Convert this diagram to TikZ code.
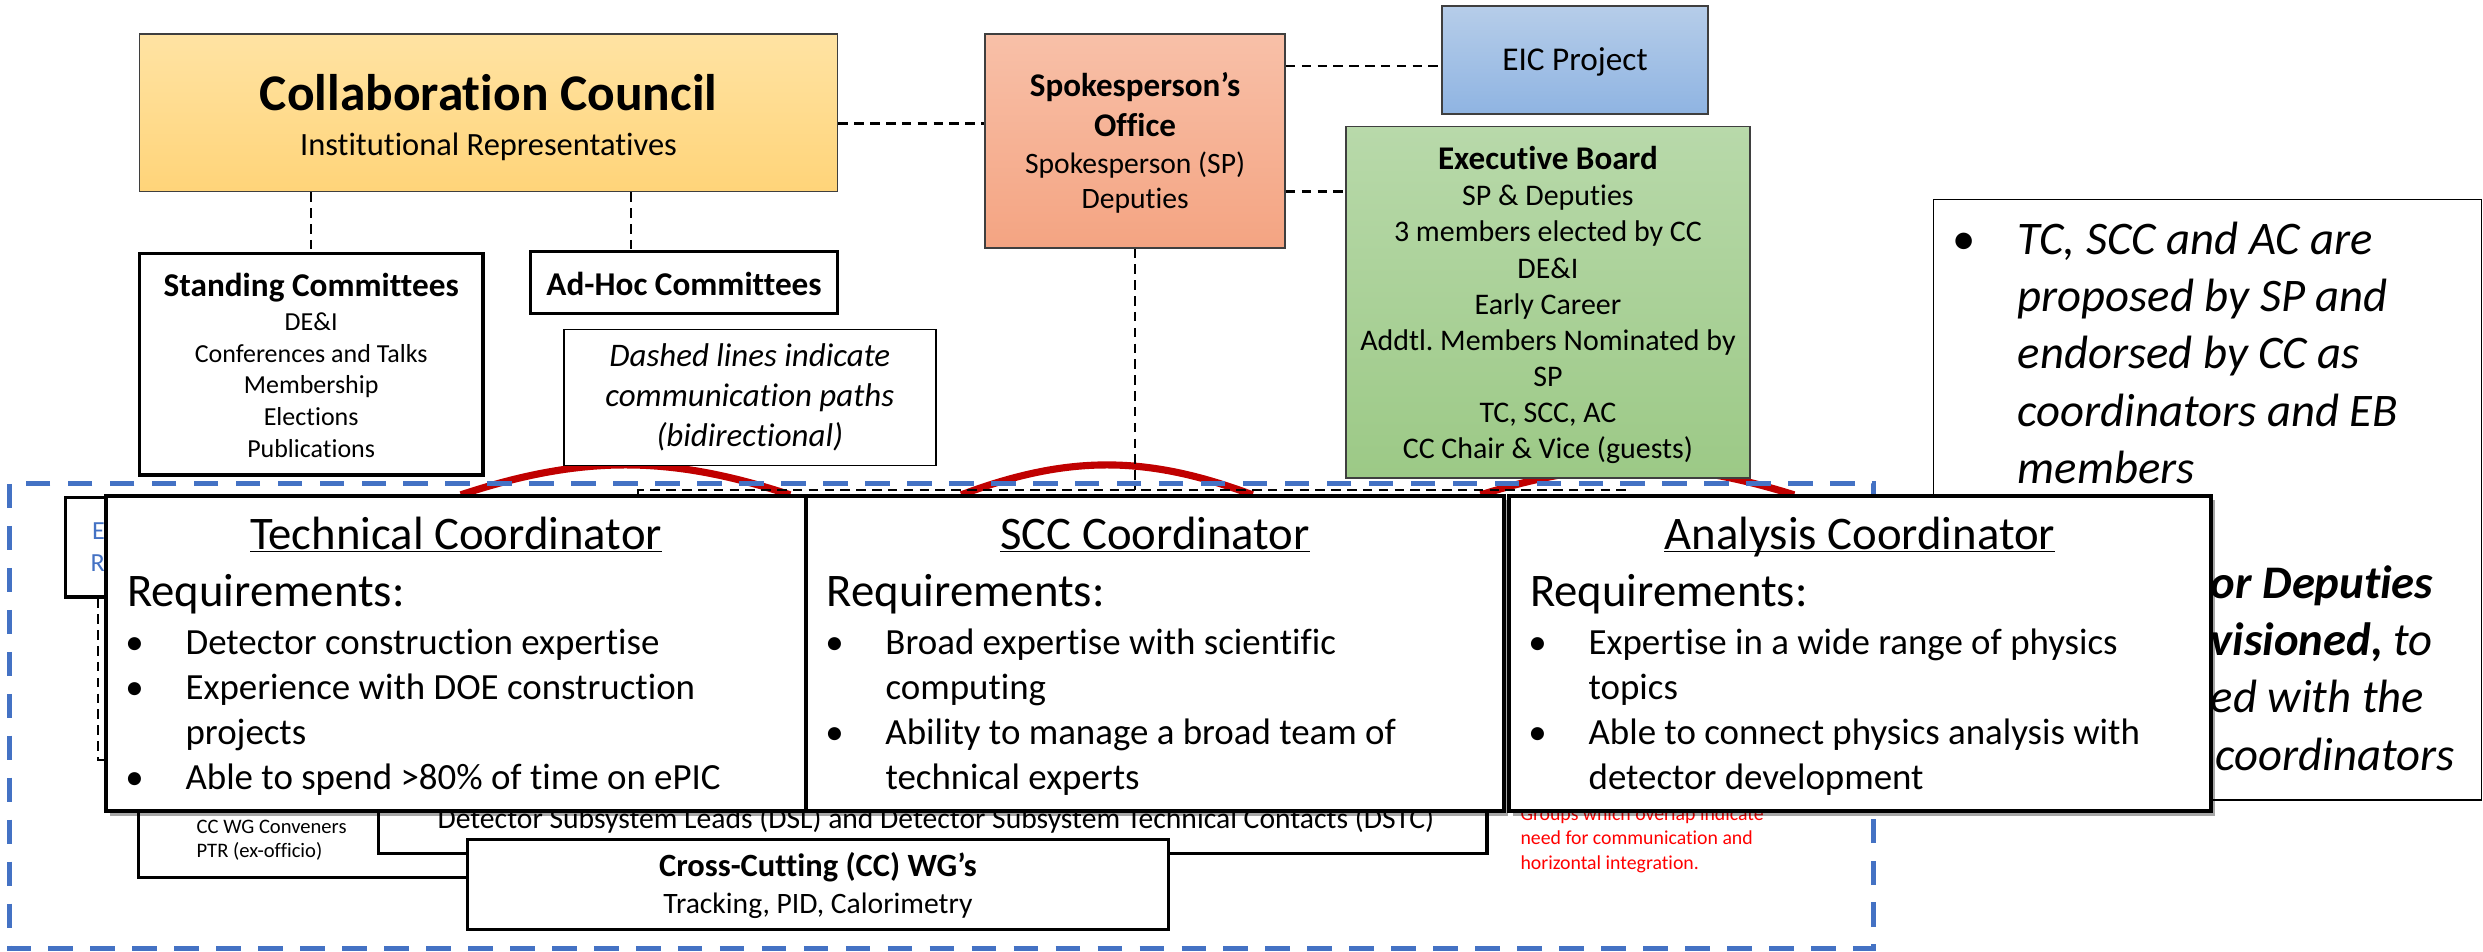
\documentclass[tikz,border=0pt]{standalone}
\usepackage{fontspec}
\setmainfont{Carlito}[Ligatures={TeX,NoCommon}]
\usetikzlibrary{shadows,backgrounds}

\definecolor{ccTop}{HTML}{FFE3A3}
\definecolor{ccBot}{HTML}{FFD479}
\definecolor{spTop}{HTML}{F8C0A8}
\definecolor{spBot}{HTML}{F4A482}
\definecolor{eicTop}{HTML}{B6CDE9}
\definecolor{eicBot}{HTML}{8FB4E2}
\definecolor{ebTop}{HTML}{B8D9AA}
\definecolor{ebBot}{HTML}{9CC986}
\definecolor{frameBlue}{HTML}{4472C4}
\definecolor{arcRed}{HTML}{C00000}
\definecolor{edgeGrey}{HTML}{3F3F3F}

\newcommand{\reqfont}{\fontsize{23.3}{28.6}\selectfont}
\newcommand{\reqlist}[1]{\begin{tabular}[t]{@{}p{38pt}@{}l@{}}#1\end{tabular}}
\frenchspacing

\tikzset{
  orgbox/.style={draw, line width=2pt, fill=white, inner sep=0pt},
  fillbox/.style={draw=edgeGrey, line width=1pt, inner sep=0pt},
  notebox/.style={draw, line width=1.1pt, fill=white, inner sep=0pt},
  coordbox/.style={draw, line width=2.6pt, fill=white, inner sep=0pt,
    drop shadow={shadow xshift=2.5pt,shadow yshift=-3pt,fill=black,opacity=0.35}},
  txt/.style={inner sep=0pt, anchor=base},
  txtl/.style={inner sep=0pt, anchor=base west},
  sz/.style={font=\fontsize{#1}{#1}\selectfont},
  bsz/.style={font=\fontsize{#1}{#1}\selectfont\bfseries},
  isz/.style={font=\fontsize{#1}{#1}\selectfont\itshape},
  commline/.style={line width=1.5pt, dash pattern=on 6pt off 4pt},
  groupline/.style={draw=frameBlue, line width=3.2pt, dash pattern=on 15.5pt off 11pt},
  overlaparc/.style={draw=arcRed, line width=4.5pt},
}

\begin{document}
\begin{tikzpicture}[x=1pt,y=-1pt]
\useasboundingbox (0,0) rectangle (1568,601);

% council and committees
\node[fillbox, top color=ccTop, bottom color=ccBot, minimum width=441pt, minimum height=99.5pt] (cc) at (308.5,71.3) {};
\node[txt, bsz=32.5] (cctitle) at (308.5,69.5) {Collaboration Council};
\node[txt, sz=20.5] (ccsub) at (308.5,98.5) {Institutional Representatives};

\node[orgbox, minimum width=217pt, minimum height=140pt] (stand) at (196.5,230) {};
\node[txt, bsz=21] (standhd) at (196.5,187) {Standing Committees};
\foreach \lbl [count=\i from 0] in {DE\&I, Conferences and Talks, Membership, Elections, Publications}
  \node[txt, sz=16.4] (stand\i) at (196.5,{208.8+20*\i}) {\lbl};

\node[orgbox, minimum width=194pt, minimum height=39pt] (adhoc) at (432,178.5) {};
\node[txt, bsz=21] (adhochd) at (432,186.3) {Ad-Hoc Committees};

\node[notebox, minimum width=235pt, minimum height=86pt] (note) at (473.5,251) {};
\foreach \lbl [count=\i from 0] in {Dashed lines indicate, communication paths, (bidirectional)}
  \node[txt, isz=20.8] (note\i) at (473.5,{231.6+25.3*\i}) {\lbl};

% spokesperson, project, board
\node[fillbox, top color=spTop, bottom color=spBot, minimum width=189.5pt, minimum height=135pt] (sp) at (716.8,89) {};
\node[txt, bsz=20.9] (sphd1) at (716.8,61) {Spokesperson’s};
\node[txt, bsz=20.9] (sphd2) at (716.8,85.9) {Office};
\node[txt, sz=18.7] (sp1) at (716.8,109.4) {Spokesperson (SP)};
\node[txt, sz=18.7] (sp2) at (716.8,131.6) {Deputies};

\node[fillbox, top color=eicTop, bottom color=eicBot, minimum width=168pt, minimum height=68.2pt] (eic) at (994.6,37.9) {};
\node[txt, sz=21] (eictxt) at (994.6,44.8) {EIC Project};

\node[fillbox, top color=ebTop, bottom color=ebBot, minimum width=255pt, minimum height=222pt] (eb) at (977.5,191) {};
\node[txt, bsz=20.9] (ebhd) at (977.5,107) {Executive Board};
\foreach \lbl [count=\i from 0] in {SP \& Deputies, 3 members elected by CC, DE\&I, Early Career,
    Addtl. Members Nominated by, SP, {TC, SCC, AC}, CC Chair \& Vice (guests)}
  \node[txt, sz=18.9] (eb\i) at (977.5,{130+22.8*\i}) {\lbl};

% remark box on the right
\node[notebox, minimum width=346pt, minimum height=379pt] (remark) at (1394,315.5) {};
\node[txtl, sz=29.5] (remarkdot) at (1233,160.5) {\textbullet};
\foreach \lbl [count=\i from 0] in {{TC, SCC and AC are}, proposed by SP and, endorsed by CC as, coordinators and EB, members}
  \node[txtl, isz=29.5] (remark\i) at (1274,{160.5+36.2*\i}) {\lbl};
\node[txtl, isz=29.5] (remark6) at (1396,377.7) {\textbf{or Deputies}};
\node[txtl, isz=29.5] (remark7) at (1396,413.9) {\textbf{visioned,} to};
\node[txtl, isz=29.5] (remark8) at (1396,450.1) {ed with the};
\node[txtl, isz=29.5] (remark9) at (1399,486.3) {coordinators};

% groups behind the coordinators
\node[orgbox, minimum width=160pt, minimum height=63pt] (ebox) at (121.5,345.5) {};
\node[txtl, sz=16.5, text=frameBlue] (ebox1) at (58,341) {E};
\node[txtl, sz=16.5, text=frameBlue] (ebox2) at (57,361) {R};

\node[orgbox, minimum width=412.5pt, minimum height=84pt] (ccwg) at (293.75,512) {};
\node[txtl, sz=13] (ccwg1) at (124,526.3) {CC WG Conveners};
\node[txtl, sz=13] (ccwg2) at (124,541.6) {PTR (ex-officio)};

\node[orgbox, minimum width=700pt, minimum height=69pt] (dsl) at (589,504.5) {};
\node[txt, sz=18.7] (dsltxt) at (591,523) {Detector Subsystem Leads (DSL) and Detector Subsystem Technical Contacts (DSTC)};

\node[orgbox, minimum width=443pt, minimum height=57pt] (cross) at (516.5,558.5) {};
\node[txt, bsz=20.5] (crosshd) at (516.5,553.6) {Cross-Cutting (CC) WG’s};
\node[txt, sz=18.7] (crosssub) at (516.5,576.8) {Tracking, PID, Calorimetry};

\foreach \lbl [count=\i from 0] in {Groups which overlap indicate, need for communication and, horizontal integration.}
  \node[txtl, sz=12.5, text=red] (groups\i) at (960,{518+15.5*\i}) {\lbl};

% coordinators
\node[coordbox, minimum width=442pt, minimum height=199pt] (tc) at (288,412.5) {};
\node[txt, sz=29.5] (tchd) at (288,346.9) {\underline{\smash{Technical Coordinator}}};
\node[txtl, sz=29.5] (tcreq) at (80,382.7) {Requirements:};
\node[txtl, font=\reqfont] (tcitems) at (79,413) {\reqlist{\textbullet & Detector construction expertise\\
  \textbullet & Experience with DOE construction\\ & projects\\ \textbullet & Able to spend >80\% of time on ePIC}};

\node[coordbox, minimum width=441pt, minimum height=199pt] (scc) at (729.5,412.5) {};
\node[txt, sz=29.5] (scchd) at (729.5,346.9) {\underline{\smash{SCC Coordinator}}};
\node[txtl, sz=29.5] (sccreq) at (522,382.7) {Requirements:};
\node[txtl, font=\reqfont] (sccitems) at (521,413) {\reqlist{\textbullet & Broad expertise with scientific\\
  & computing\\ \textbullet & Ability to manage a broad team of\\ & technical experts}};

\node[coordbox, minimum width=443pt, minimum height=199pt] (ac) at (1174.5,412.5) {};
\node[txt, sz=29.5] (achd) at (1174.5,346.9) {\underline{\smash{Analysis Coordinator}}};
\node[txtl, sz=29.5] (acreq) at (966,382.7) {Requirements:};
\node[txtl, font=\reqfont] (acitems) at (965,413) {\reqlist{\textbullet & Expertise in a wide range of physics\\
  & topics\\ \textbullet & Able to connect physics analysis with\\ & detector development}};

% overlap arcs, group frame, communication paths
\begin{scope}[on background layer]
  \foreach \a/\b/\c in {291/499/287.3, 607/791/287.3, 935/1133/289.8}
    \draw[overlaparc] (\a,312.5) .. controls ({\a+0.365*(\b-\a)},\c) and ({\b-0.365*(\b-\a)},\c) .. (\b,312.5);
  \draw[groupline] (6,305.6) rectangle (1183,599);
  \draw[commline] (cc.east |- 0,78) -- (sp.west |- 0,78);
  \draw[commline] (sp.east |- 0,41.7) -- (eic.west |- 0,41.7);
  \draw[commline] (sp.east |- 0,121) -- (eb.west |- 0,121);
  \draw[commline] (cc.south -| stand.north) -- (stand.north);
  \draw[commline] (cc.south -| 398.6,0) -- (adhoc.north -| 398.6,0);
  \coordinate (tcjoin) at (403,309.4);
  \coordinate (acjoin) at (1028,309.4);
  \draw[commline] (sp.south) -- (sp.south |- tcjoin);
  \draw[commline] (tc.north -| tcjoin) -- (tcjoin) -- (acjoin) -- (ac.north -| acjoin);
  \coordinate (eboxjoin) at (62,480);
  \draw[commline] (ebox.south -| eboxjoin) -- (eboxjoin) -- (tc.west |- eboxjoin);
\end{scope}
\end{tikzpicture}
\end{document}
